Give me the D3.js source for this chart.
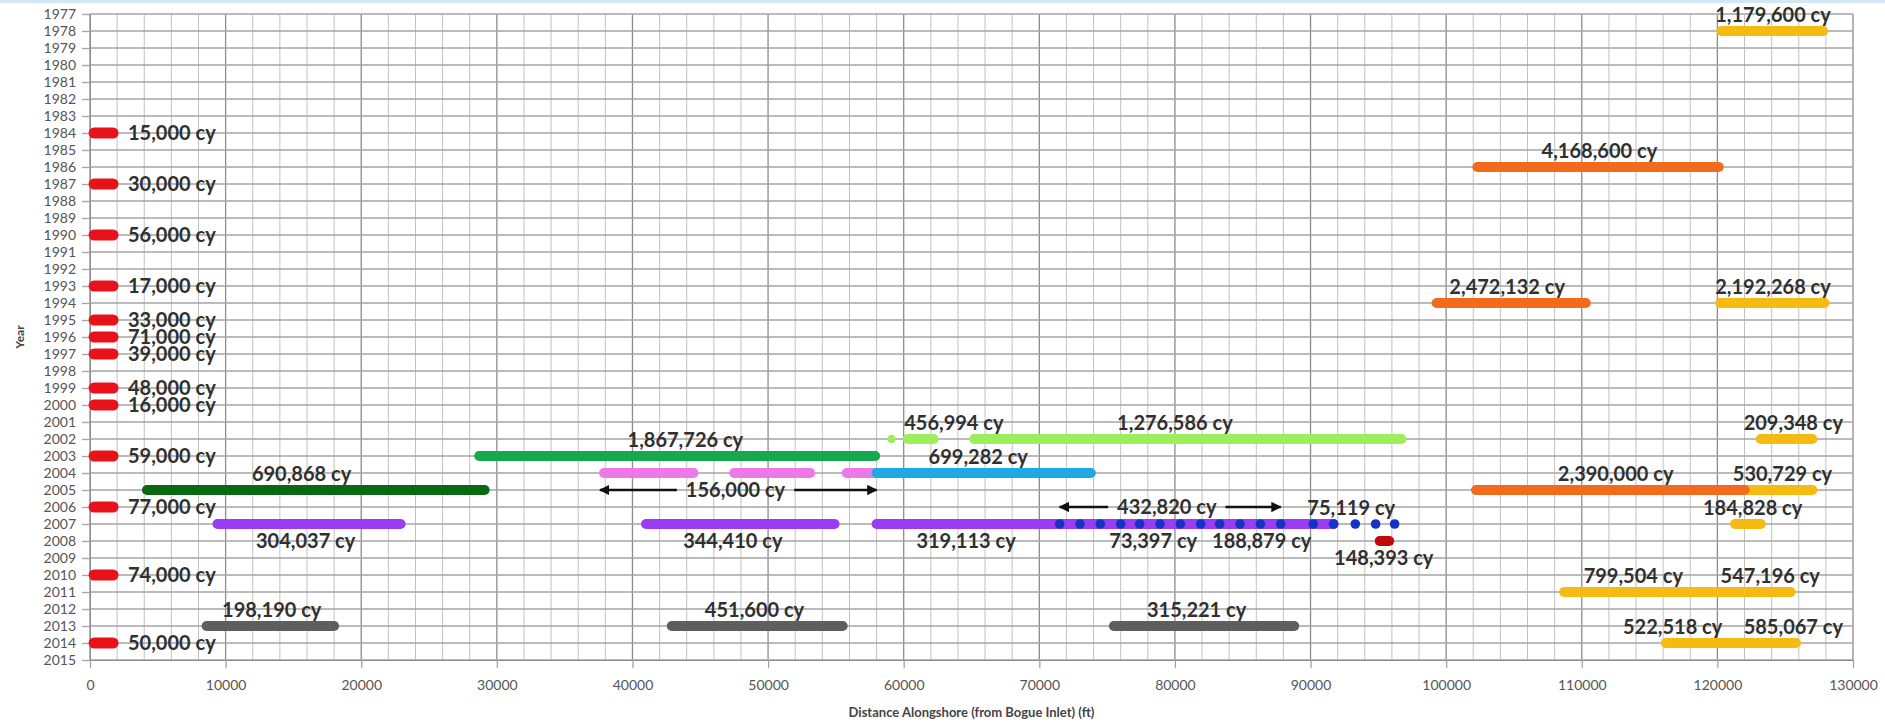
<html>
<head>
<meta charset="utf-8">
<title>Placements by year</title>
<script src="https://d3js.org/d3.v7.min.js"></script>
<style>
body { margin: 0; background: #fff; font-family: Lato, 'Open Sans', sans-serif; }
svg { display: block; }
.tick text { fill: #555; font-size: 14px; font-family: Lato, sans-serif; }
.lbl { font-weight: bold; font-size: 20px; fill: #303030; }
</style>
</head>
<body>
<div id="chart"></div>
<script>
// ---- data ----
var years = d3.range(1977, 2016);
var xTickValues = d3.range(0, 130001, 10000);

// small placements right at the inlet (0 - 2000 ft)
var inletYears  = [1984, 1987, 1990, 1993, 1995, 1996, 1997, 1999, 2000, 2003, 2006, 2010, 2014];
var inletLabels = ["15,000 cy", "30,000 cy", "56,000 cy", "17,000 cy", "33,000 cy", "71,000 cy",
                   "39,000 cy", "48,000 cy", "16,000 cy", "59,000 cy", "77,000 cy", "74,000 cy", "50,000 cy"];

// [series, year, start ft, end ft]
var segments = [
  ["yellow",    1978, 120300, 127800],
  ["orange",    1986, 102300, 120100],
  ["orange",    1994,  99300, 110300],
  ["yellow",    1994, 120200, 127900],
  ["lime",      2002,  60300,  62200],
  ["lime",      2002,  65200,  96700],
  ["yellow",    2002, 123200, 127000],
  ["green",     2003,  28700,  57900],
  ["pink",      2004,  37900,  44500],
  ["pink",      2004,  47500,  53100],
  ["pink",      2004,  55800,  58000],
  ["cyan",      2004,  58000,  73800],
  ["darkgreen", 2005,   4200,  29100],
  ["yellow",    2005, 122000, 127000],
  ["orange",    2005, 102200, 122000],
  ["purple",    2007,   9400,  22900],
  ["purple",    2007,  41000,  54900],
  ["purple",    2007,  58000,  91700],
  ["yellow",    2007, 121300, 123200],
  ["darkred",   2008,  95100,  95800],
  ["yellow",    2011, 108700, 125400],
  ["gray",      2013,   8600,  18000],
  ["gray",      2013,  42900,  55500],
  ["gray",      2013,  75500,  88800],
  ["yellow",    2014, 116200, 125800]
];

// single point placement
var limePoints = [[2002, 59100]];

// dotted placements along 2007
var dotYear = 2007;
var dotX = [71500, 73000, 74500, 76000, 77400, 78900, 80400, 81900, 83300, 84800, 86300, 87800,
            90200, 91700, 93300, 94800, 96200];

// [text, year, centre ft, side (-1 above, 1 below)]
var labels = [
  ["1,179,600 cy", 1978, 124100, -1],
  ["4,168,600 cy", 1986, 111300, -1],
  ["2,472,132 cy", 1994, 104500, -1],
  ["2,192,268 cy", 1994, 124100, -1],
  ["456,994 cy",   2002,  63700, -1],
  ["1,276,586 cy", 2002,  80000, -1],
  ["209,348 cy",   2002, 125600, -1],
  ["1,867,726 cy", 2003,  43900, -1],
  ["699,282 cy",   2004,  65500, -1],
  ["690,868 cy",   2005,  15600, -1],
  ["2,390,000 cy", 2005, 112500, -1],
  ["530,729 cy",   2005, 124800, -1],
  ["75,119 cy",    2007,  93000, -1],
  ["184,828 cy",   2007, 122600, -1],
  ["304,037 cy",   2007,  15900,  1],
  ["344,410 cy",   2007,  47400,  1],
  ["319,113 cy",   2007,  64600,  1],
  ["73,397 cy",    2007,  78400,  1],
  ["188,879 cy",   2007,  86400,  1],
  ["148,393 cy",   2008,  95400,  1],
  ["799,504 cy",   2011, 113800, -1],
  ["547,196 cy",   2011, 123900, -1],
  ["198,190 cy",   2013,  13400, -1],
  ["451,600 cy",   2013,  49000, -1],
  ["315,221 cy",   2013,  81600, -1],
  ["522,518 cy",   2014, 116700, -1],
  ["585,067 cy",   2014, 125600, -1]
];

// [text, year, start ft, end ft, label centre ft]
var arrows = [
  ["156,000 cy", 2005, 37600, 58000, 47600],
  ["432,820 cy", 2006, 71500, 87800, 79400]
];

var colors = {
  red: "#e8121b", yellow: "#f6bb12", orange: "#f26a1b", lime: "#9ded5c",
  green: "#17a74c", pink: "#ee78e8", cyan: "#1ea9e2", darkgreen: "#0b6812",
  purple: "#9a3cf2", darkred: "#bf0a0a", gray: "#5e5e5e", dot: "#1531c8"
};

// ---- chart ----
var W = 1885, H = 724;
var svg = d3.select("#chart").append("svg").attr("width", W).attr("height", H);

svg.append("rect").attr("x", 0).attr("y", 0).attr("width", W).attr("height", 3).attr("fill", "#d3e8f6");

var x = d3.scaleLinear().domain([0, 130000]).range([90, 1853]);
var y = d3.scaleLinear().domain([1977, 2015]).range([14, 660]);

// grid
svg.append("g").selectAll("line")
  .data(d3.range(0, 130001, 2000))
  .enter().append("line")
  .attr("x1", function(d) { return x(d); }).attr("x2", function(d) { return x(d); })
  .attr("y1", y(1977)).attr("y2", y(2015))
  .attr("stroke", function(d) { return d % 10000 === 0 ? "#8c8c8c" : "#c2c2c2"; })
  .attr("stroke-width", function(d) { return d % 10000 === 0 ? 1.3 : 1; });

svg.append("g").selectAll("line")
  .data(years)
  .enter().append("line")
  .attr("x1", x(0)).attr("x2", x(130000))
  .attr("y1", function(d) { return y(d); }).attr("y2", function(d) { return y(d); })
  .attr("stroke", "#a4a4a4").attr("stroke-width", 1.3);

// axes
var yAxis = svg.append("g").attr("transform", "translate(" + x(0) + ",0)")
  .call(d3.axisLeft(y).tickValues(years).tickFormat(d3.format("d")).tickSize(8).tickPadding(6));
var xAxis = svg.append("g").attr("transform", "translate(0," + y(2015) + ")")
  .call(d3.axisBottom(x).tickValues(xTickValues).tickFormat(d3.format("d")).tickSize(8).tickPadding(12));
svg.selectAll(".domain").attr("stroke", "#8c8c8c");
svg.selectAll(".tick line").attr("stroke", "#a4a4a4").attr("stroke-width", 1.3);

svg.append("text")
  .attr("x", (x(0) + x(130000)) / 2).attr("y", 712)
  .attr("text-anchor", "middle").attr("dy", "0.35em")
  .style("font-size", "13px").style("font-weight", "bold").style("fill", "#444")
  .text("Distance Alongshore (from Bogue Inlet) (ft)");

svg.append("text")
  .attr("transform", "translate(20," + ((y(1977) + y(2015)) / 2) + ") rotate(-90)")
  .attr("text-anchor", "middle").attr("dy", "0.35em")
  .style("font-size", "12px").style("font-weight", "bold").style("fill", "#444")
  .text("Year");

// bars
var bars = svg.append("g").attr("stroke-linecap", "round").attr("stroke-width", 10);

bars.selectAll(".inlet")
  .data(inletYears)
  .enter().append("line")
  .attr("class", "inlet")
  .attr("x1", x(300)).attr("x2", x(1700))
  .attr("y1", function(d) { return y(d); }).attr("y2", function(d) { return y(d); })
  .attr("stroke", colors.red).attr("stroke-width", 11);

bars.selectAll(".seg")
  .data(segments)
  .enter().append("line")
  .attr("class", "seg")
  .attr("x1", function(d) { return x(d[2]); }).attr("x2", function(d) { return x(d[3]); })
  .attr("y1", function(d) { return y(d[1]); }).attr("y2", function(d) { return y(d[1]); })
  .attr("stroke", function(d) { return colors[d[0]]; });

svg.append("g").selectAll("circle")
  .data(limePoints)
  .enter().append("circle")
  .attr("cx", function(d) { return x(d[1]); }).attr("cy", function(d) { return y(d[0]); })
  .attr("r", 4).attr("fill", colors.lime);

svg.append("g").selectAll("circle")
  .data(dotX)
  .enter().append("circle")
  .attr("cx", function(d) { return x(d); }).attr("cy", y(dotYear))
  .attr("r", 4.8).attr("fill", colors.dot);

// labels
svg.append("g").selectAll("text")
  .data(inletYears)
  .enter().append("text")
  .attr("class", "lbl")
  .attr("x", x(2800)).attr("y", function(d) { return y(d); }).attr("dy", "0.35em")
  .text(function(d, i) { return inletLabels[i]; });

svg.append("g").selectAll("text")
  .data(labels)
  .enter().append("text")
  .attr("class", "lbl")
  .attr("text-anchor", "middle")
  .attr("x", function(d) { return x(d[2]); })
  .attr("y", function(d) { return y(d[1]) + d[3] * 16.5; })
  .attr("dy", "0.35em")
  .text(function(d) { return d[0]; });

// arrows
svg.append("defs").append("marker")
  .attr("id", "head").attr("viewBox", "0 0 10 10")
  .attr("refX", 9).attr("refY", 5)
  .attr("markerWidth", 4).attr("markerHeight", 4)
  .attr("orient", "auto")
  .append("path").attr("d", "M0,0L10,5L0,10z").attr("fill", "#111");

var ag = svg.append("g");
arrows.forEach(function(a) {
  var t = ag.append("text").attr("class", "lbl")
    .attr("text-anchor", "middle")
    .attr("x", x(a[4])).attr("y", y(a[1])).attr("dy", "0.35em")
    .text(a[0]);
  var hw = t.node().getComputedTextLength() / 2 + 9;
  ag.append("line")
    .attr("x1", x(a[4]) - hw).attr("x2", x(a[2]))
    .attr("y1", y(a[1])).attr("y2", y(a[1]))
    .attr("stroke", "#111").attr("stroke-width", 2.6).attr("marker-end", "url(#head)");
  ag.append("line")
    .attr("x1", x(a[4]) + hw).attr("x2", x(a[3]))
    .attr("y1", y(a[1])).attr("y2", y(a[1]))
    .attr("stroke", "#111").attr("stroke-width", 2.6).attr("marker-end", "url(#head)");
});
</script>
</body>
</html>
